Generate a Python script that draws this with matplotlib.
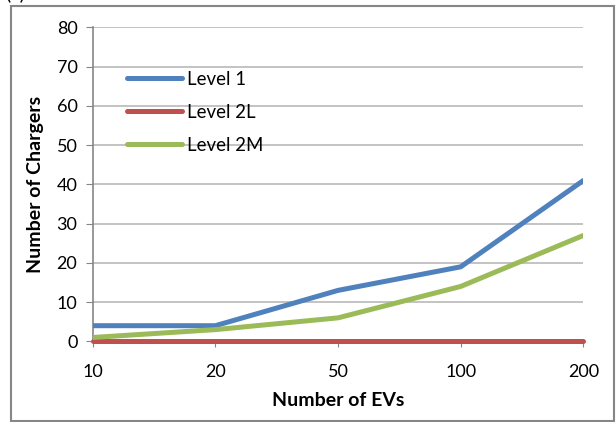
import numpy as np
import matplotlib.pyplot as plt
from matplotlib.patches import Rectangle

plt.rcParams['font.family'] = ['Lato', 'DejaVu Sans']

# chart data
evs = ['10', '20', '50', '100', '200']
level1 = [4, 4, 13, 19, 41]
level2l = [0, 0, 0, 0, 0]
level2m = [1, 3, 6, 14, 27]
y_ticks = [0, 10, 20, 30, 40, 50, 60, 70, 80]

fig = plt.figure(figsize=(6.16, 4.22), dpi=100)
ax = fig.add_axes([0.1505, 0.191, 0.7965, 0.744])

x = np.arange(len(evs))
ax.plot(x, level1, color='#4F81BD', lw=3.6, label='Level 1', solid_capstyle='round', zorder=3)
ax.plot(x, level2l, color='#C0504D', lw=3.6, label='Level 2L', solid_capstyle='round', zorder=3, clip_on=False)
ax.plot(x, level2m, color='#9BBB59', lw=3.6, label='Level 2M', solid_capstyle='round', zorder=3)

ax.set_xlim(0, len(evs) - 1)
ax.set_ylim(0, 80)
ax.set_xticks(x)
ax.set_xticklabels(evs, fontsize=13)
ax.set_yticks(y_ticks)
ax.tick_params(axis='y', labelsize=13, length=5, color='#868686', pad=6)
ax.tick_params(axis='x', length=4, color='#868686', pad=12)
ax.grid(axis='y', color='#BEBEBE', lw=1.3)
ax.set_axisbelow(True)
for s in ['top', 'right']:
    ax.spines[s].set_visible(False)
ax.spines['left'].set_color('#868686')
ax.spines['bottom'].set_color('#868686')
ax.spines['left'].set_linewidth(1.2)
ax.spines['bottom'].set_linewidth(1.2)

ax.set_xlabel('Number of EVs', fontsize=14, fontweight='bold', labelpad=9)
ax.set_ylabel('Number of Chargers', fontsize=14, fontweight='bold', labelpad=9)

leg = ax.legend(loc='upper left', bbox_to_anchor=(0.035, 0.915), frameon=False,
                fontsize=13.4, handlelength=3.0, handletextpad=0.25, labelspacing=0.85)

# outer chart border
fig.patches.append(Rectangle((11 / 616, 1 / 422), 603 / 616, 415 / 422,
                             transform=fig.transFigure, fill=False,
                             edgecolor='#868686', lw=1.5))
# cut-off caption above the chart
fig.text(5 / 616, 1.015, '(c)', fontsize=14, va='center', ha='left')

fig.savefig('out.png', dpi=100)
